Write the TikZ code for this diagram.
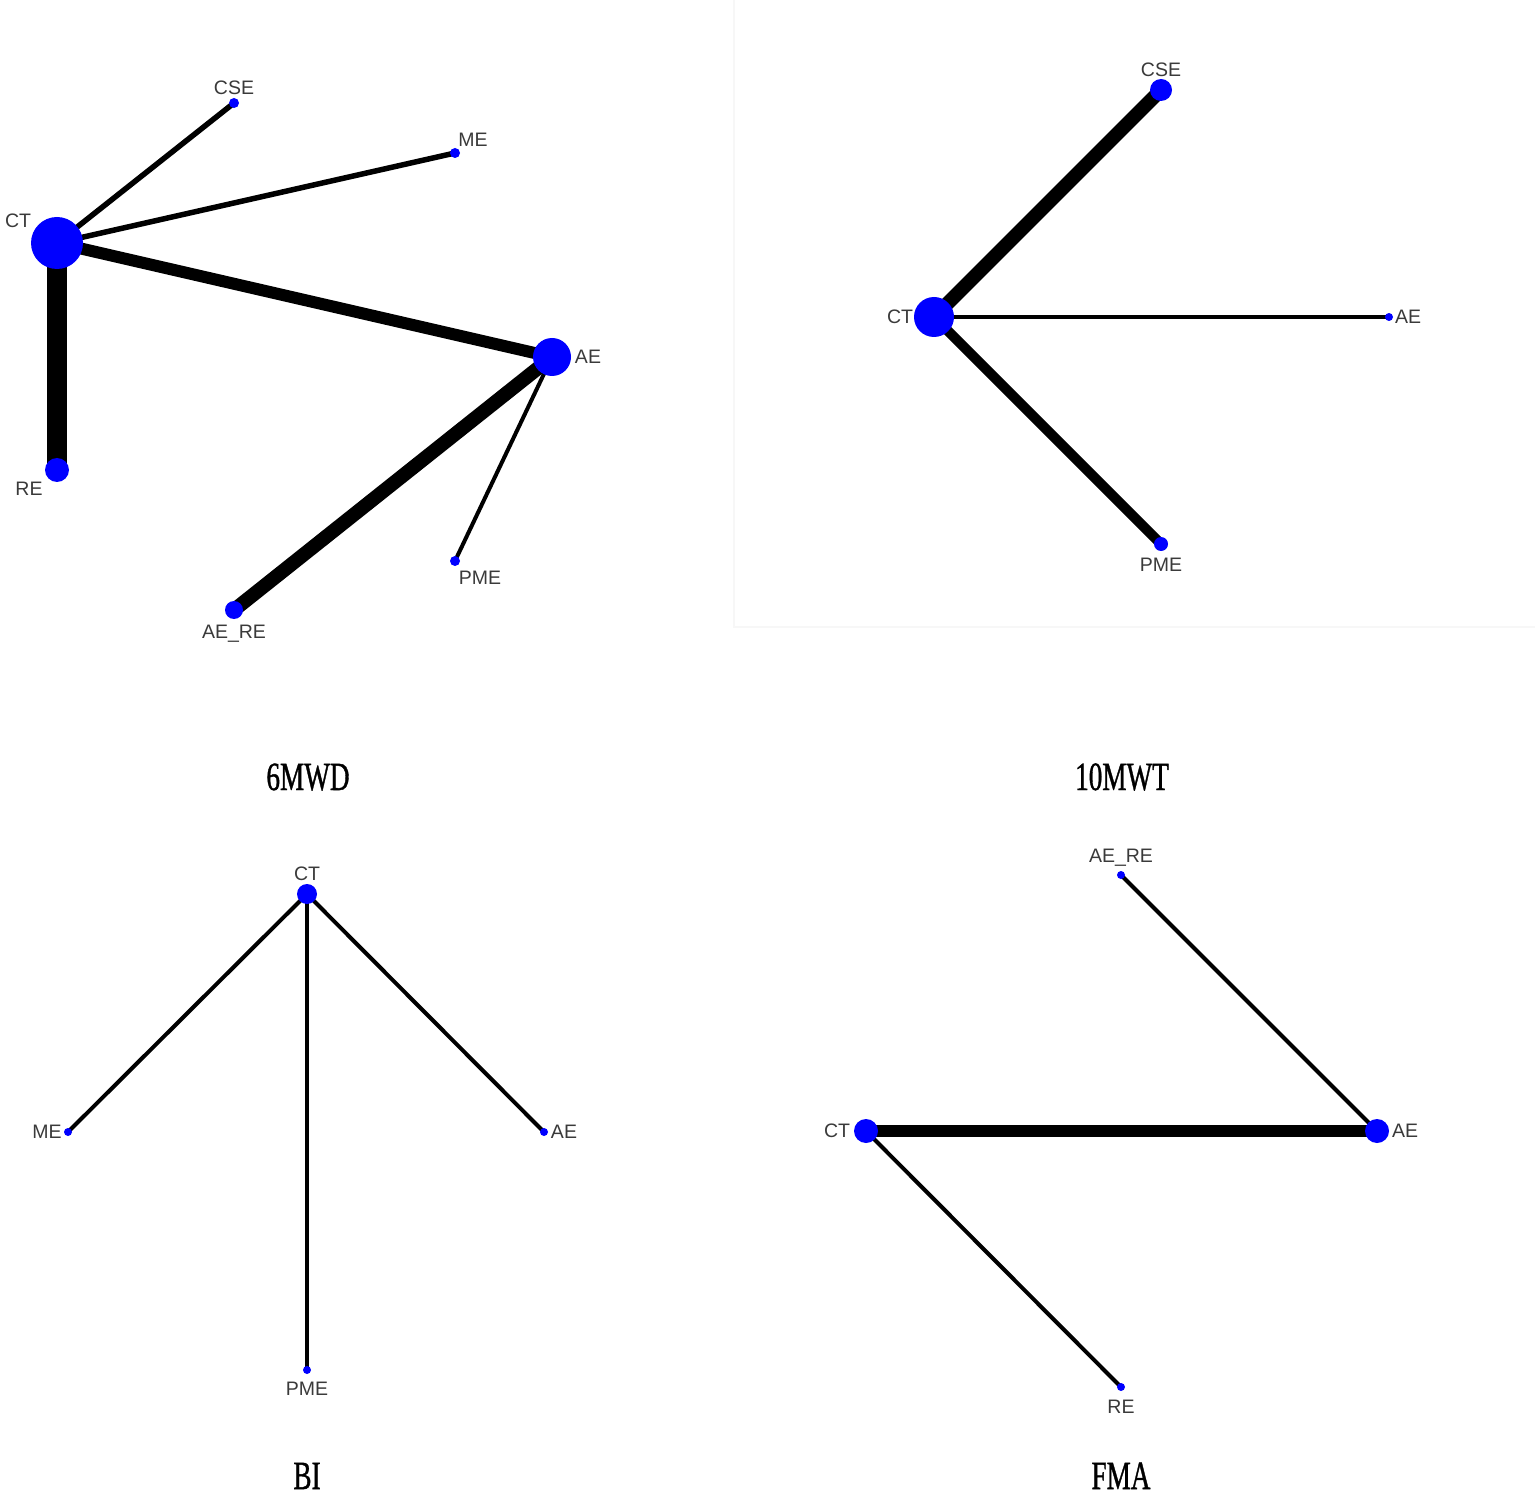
\documentclass[tikz,border=0pt]{standalone}
\usepackage{fontspec}
\setmainfont{Liberation Serif}
\newfontfamily\lblfont{Liberation Sans}
\newfontfamily\ttlfont[FakeBold=1.2]{Liberation Serif}
\usetikzlibrary{backgrounds}
\definecolor{lblgray}{HTML}{3A3A3A}
\tikzset{
  vtx/.style={circle, fill={rgb,255:red,0;green,0;blue,255}, draw=none, inner sep=0pt, minimum size=#1},
  lbl/.style={font=\lblfont\fontsize{19.5}{20}\selectfont, text=lblgray, inner sep=0pt},
  ttl/.style={font=\ttlfont\fontsize{40}{42}\selectfont, inner sep=0pt, anchor=base},
  edge/.style={draw=black, line width=#1}
}
\newcommand{\ttltext}[1]{\scalebox{0.68}[1]{#1}}
\begin{document}
\begin{tikzpicture}[x=1pt, y=-1pt]
\useasboundingbox (0,0) rectangle (1535,1495);
\begin{scope}[on background layer]
\fill[white] (0,0) rectangle (1535,1495);
\draw[color=black!3, line width=1.5] (734,0) -- (734,627) -- (1535,627);
\end{scope}

% ---------- 6MWD ----------
\node[vtx=52] (a-CT) at (57,243) {};
\node[vtx=10] (a-CSE) at (234,103) {};
\node[vtx=10] (a-ME) at (455,153) {};
\node[vtx=38] (a-AE) at (552,357) {};
\node[vtx=24] (a-RE) at (57,470) {};
\node[vtx=18] (a-AERE) at (234,610) {};
\node[vtx=10] (a-PME) at (455,561) {};
\begin{scope}[on background layer]
\draw[edge=5.5] (a-CT.center) -- (a-CSE.center);
\draw[edge=5.5] (a-CT.center) -- (a-ME.center);
\draw[edge=12] (a-CT.center) -- (a-AE.center);
\draw[edge=20] (a-CT.center) -- (a-RE.center);
\draw[edge=14] (a-AE.center) -- (a-AERE.center);
\draw[edge=4] (a-AE.center) -- (a-PME.center);
\end{scope}
\node[lbl] (a-lCT) at (18,221) {CT};
\node[lbl] (a-lCSE) at (234,88) {CSE};
\node[lbl] (a-lME) at (473,140) {ME};
\node[lbl] (a-lAE) at (588,357) {AE};
\node[lbl] (a-lRE) at (29,489) {RE};
\node[lbl] (a-lAERE) at (234,634) {AE\_RE};
\node[lbl] (a-lPME) at (480,578) {PME};
\node[ttl] (t1) at (308,790) {\ttltext{6MWD}};

% ---------- 10MWT ----------
\node[vtx=40] (b-CT) at (934,317) {};
\node[vtx=22] (b-CSE) at (1161,90) {};
\node[vtx=8] (b-AE) at (1389,317) {};
\node[vtx=14] (b-PME) at (1161,544) {};
\begin{scope}[on background layer]
\draw[edge=14] (b-CT.center) -- (b-CSE.center);
\draw[edge=4] (b-CT.center) -- (b-AE.center);
\draw[edge=10] (b-CT.center) -- (b-PME.center);
\end{scope}
\node[lbl] (b-lCT) at (900,317) {CT};
\node[lbl] (b-lCSE) at (1161,70) {CSE};
\node[lbl] (b-lAE) at (1408,317) {AE};
\node[lbl] (b-lPME) at (1161,565) {PME};
\node[ttl] (t2) at (1122,790) {\ttltext{10MWT}};

% ---------- BI ----------
\node[vtx=20] (c-CT) at (307,894) {};
\node[vtx=8] (c-ME) at (68,1132) {};
\node[vtx=8] (c-AE) at (544,1132) {};
\node[vtx=8] (c-PME) at (307,1370) {};
\begin{scope}[on background layer]
\draw[edge=4] (c-CT.center) -- (c-ME.center);
\draw[edge=4] (c-CT.center) -- (c-AE.center);
\draw[edge=4] (c-CT.center) -- (c-PME.center);
\end{scope}
\node[lbl] (c-lCT) at (307,874) {CT};
\node[lbl] (c-lME) at (47,1132) {ME};
\node[lbl] (c-lAE) at (564,1132) {AE};
\node[lbl] (c-lPME) at (307,1389) {PME};
\node[ttl] (t3) at (307,1489) {\ttltext{BI}};

% ---------- FMA ----------
\node[vtx=24] (d-CT) at (866,1131) {};
\node[vtx=24] (d-AE) at (1377,1131) {};
\node[vtx=8] (d-AERE) at (1121,875) {};
\node[vtx=8] (d-RE) at (1121,1387) {};
\begin{scope}[on background layer]
\draw[edge=12] (d-CT.center) -- (d-AE.center);
\draw[edge=4] (d-AE.center) -- (d-AERE.center);
\draw[edge=4] (d-CT.center) -- (d-RE.center);
\end{scope}
\node[lbl] (d-lCT) at (837,1131) {CT};
\node[lbl] (d-lAE) at (1405,1131) {AE};
\node[lbl] (d-lAERE) at (1121,858) {AE\_RE};
\node[lbl] (d-lRE) at (1121,1407) {RE};
\node[ttl] (t4) at (1121,1489) {\ttltext{FMA}};
\end{tikzpicture}
\end{document}
